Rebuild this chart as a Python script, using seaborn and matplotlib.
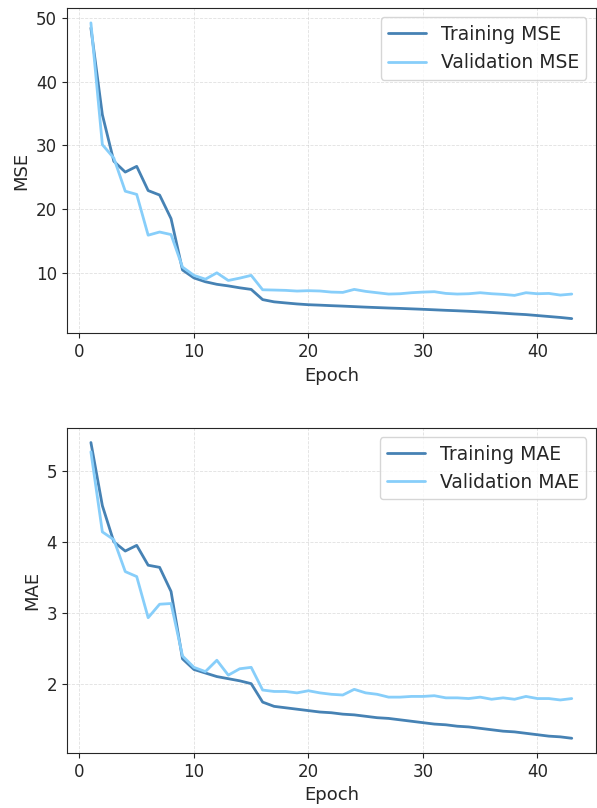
import numpy as np
import pandas as pd
import matplotlib
matplotlib.use("Agg")
import matplotlib.pyplot as plt
import seaborn as sns

# values
epochs = list(range(1, 44))

train_mse = [48.4, 34.8, 27.5, 25.8, 26.7, 22.9, 22.2, 18.5, 10.45, 9.2,
             8.6, 8.2, 7.95, 7.65, 7.4, 5.8, 5.45, 5.28, 5.12, 5.0,
             4.93, 4.85, 4.78, 4.7, 4.62, 4.55, 4.48, 4.42, 4.35, 4.28,
             4.2, 4.12, 4.05, 3.97, 3.88, 3.78, 3.67, 3.55, 3.45, 3.3,
             3.15, 3.0, 2.82]
val_mse = [49.2, 30.1, 28.0, 22.8, 22.3, 15.9, 16.4, 16.0, 10.9, 9.6,
           9.0, 10.0, 8.8, 9.17, 9.6, 7.34, 7.3, 7.25, 7.14, 7.2,
           7.15, 6.98, 6.93, 7.4, 7.09, 6.88, 6.67, 6.72, 6.88, 6.98,
           7.04, 6.77, 6.67, 6.72, 6.88, 6.72, 6.62, 6.46, 6.88, 6.72,
           6.77, 6.51, 6.67]

train_mae = [5.40, 4.51, 4.00, 3.87, 3.95, 3.67, 3.64, 3.30, 2.35, 2.20,
             2.15, 2.10, 2.07, 2.04, 2.00, 1.74, 1.68, 1.66, 1.64, 1.62,
             1.60, 1.59, 1.57, 1.56, 1.54, 1.52, 1.51, 1.49, 1.47, 1.45,
             1.43, 1.42, 1.40, 1.39, 1.37, 1.35, 1.33, 1.32, 1.30, 1.28,
             1.26, 1.25, 1.23]
val_mae = [5.27, 4.14, 4.03, 3.58, 3.51, 2.93, 3.12, 3.13, 2.39, 2.23,
           2.17, 2.33, 2.12, 2.21, 2.23, 1.91, 1.89, 1.89, 1.87, 1.90,
           1.87, 1.85, 1.84, 1.92, 1.87, 1.85, 1.81, 1.81, 1.82, 1.82,
           1.83, 1.80, 1.80, 1.79, 1.81, 1.78, 1.80, 1.78, 1.82, 1.79,
           1.79, 1.77, 1.79]

train_color = "#4682B4"
val_color = "#87CEFA"

sns.set_style("ticks")
plt.rcParams["font.family"] = ["DejaVu Sans"]
plt.rcParams["axes.edgecolor"] = "#262626"

fig, axes = plt.subplots(2, 1, figsize=(5.97, 8.08), dpi=100)
fig.subplots_adjust(left=0.112, right=0.998, top=0.990, bottom=0.068, hspace=0.29)

panels = [
    (axes[0], train_mse, val_mse, "MSE"),
    (axes[1], train_mae, val_mae, "MAE"),
]

for ax, tr, va, name in panels:
    sns.lineplot(x=epochs, y=tr, ax=ax, color=train_color, linewidth=2,
                 label=f"Training {name}")
    sns.lineplot(x=epochs, y=va, ax=ax, color=val_color, linewidth=2,
                 label=f"Validation {name}")
    ax.set_xlabel("Epoch", fontsize=13)
    ax.set_ylabel(name, fontsize=13)
    ax.tick_params(labelsize=12)
    ax.grid(True, linestyle="--", linewidth=0.6, color="#cccccc", alpha=0.6)
    ax.legend(loc="upper right", fontsize=13.5, frameon=True)

fig.savefig("out.png", dpi=100)
